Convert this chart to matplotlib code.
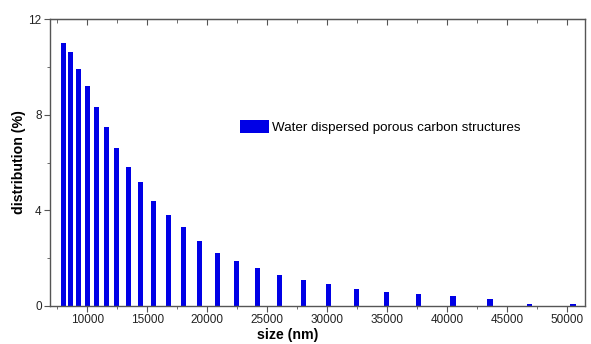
import matplotlib.pyplot as plt
from matplotlib.ticker import MultipleLocator

# particle size (nm) and distribution (%)
size_nm = [8000, 8620, 9280, 10000, 10780, 11580, 12470, 13420, 14450, 15530,
           16750, 18030, 19390, 20870, 22480, 24200, 26000, 28000, 30140, 32450,
           34950, 37640, 40500, 43580, 46890, 50500]
distribution = [11.0, 10.6, 9.9, 9.2, 8.3, 7.5, 6.6, 5.8, 5.2, 4.4,
                3.8, 3.3, 2.7, 2.2, 1.9, 1.6, 1.3, 1.1, 0.9, 0.7,
                0.6, 0.5, 0.4, 0.3, 0.1, 0.1]
label = "Water dispersed porous carbon structures"

plt.rcParams['font.family'] = ['Liberation Sans', 'DejaVu Sans']

fig = plt.figure(figsize=(5.91, 3.44), dpi=100)
ax = fig.add_axes([50 / 591, 38 / 344, 535 / 591, 287 / 344])

ax.bar(size_nm, distribution, width=430, color='#0000e6', label=label)

ax.set_xlim(6900, 51500)
ax.set_ylim(0, 12)
ax.xaxis.set_major_locator(MultipleLocator(5000))
ax.xaxis.set_minor_locator(MultipleLocator(2500))
ax.yaxis.set_major_locator(MultipleLocator(4))
ax.yaxis.set_minor_locator(MultipleLocator(2))

for s in ax.spines.values():
    s.set_color('#555555')
    s.set_linewidth(1.0)

ax.tick_params(axis='both', which='both', colors='#555555', labelcolor='#222222',
               labelsize=8.5, direction='out')
ax.tick_params(axis='both', which='major', length=4)
ax.tick_params(axis='both', which='minor', length=2.5)
ax.tick_params(axis='x', pad=2)
ax.tick_params(axis='y', pad=2)

# top axis: ticks pointing inwards, no labels
top = ax.secondary_xaxis('top')
top.xaxis.set_major_locator(MultipleLocator(5000))
top.xaxis.set_minor_locator(MultipleLocator(2500))
top.tick_params(which='both', direction='in', colors='#555555', labeltop=False)
top.tick_params(which='major', length=4)
top.tick_params(which='minor', length=3)
top.spines['top'].set_color('#555555')

ax.set_xlabel('size (nm)', fontsize=10.2, fontweight='bold', labelpad=0)
ax.xaxis.set_label_coords(238 / 535, -0.075)
ax.set_ylabel('distribution (%)', fontsize=10.2, fontweight='bold', labelpad=2)

ax.legend(loc='upper left', bbox_to_anchor=(0.333, 0.69), frameon=False,
          fontsize=9.6, handlelength=2.2, handleheight=1.1, handletextpad=0.2)

fig.savefig('out.png', dpi=100)
